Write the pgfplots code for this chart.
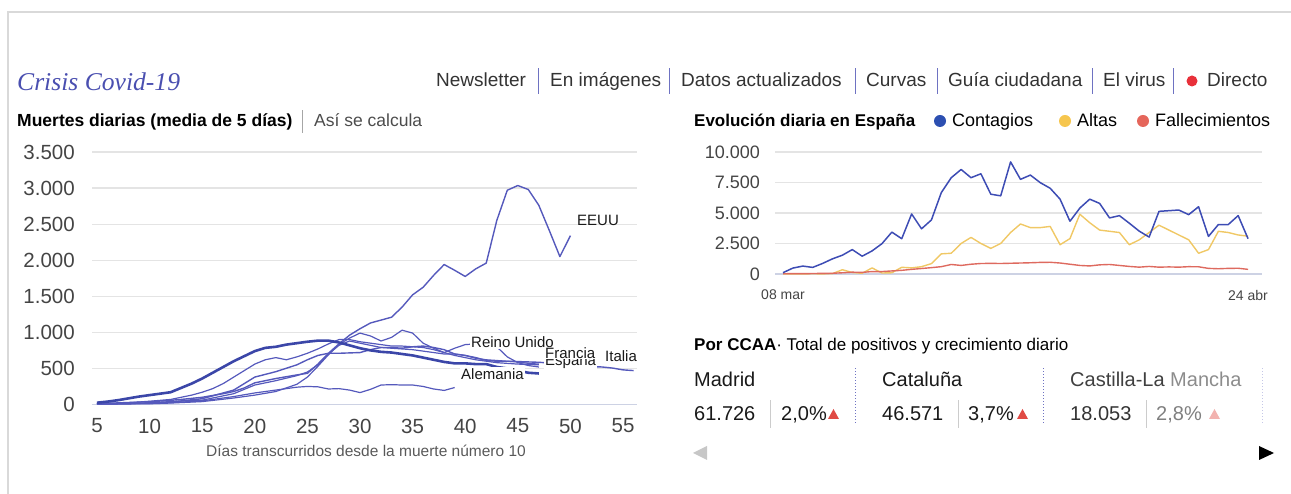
\documentclass[border=0pt]{standalone}
\usepackage{pgfplots}
\pgfplotsset{compat=1.18}
\usepackage{pgfplotstable}
\usepackage{fontspec}
\setmainfont{Liberation Sans}
\newfontfamily\titlefont{Liberation Serif}
\newcommand\fs[1]{\fontsize{#1}{#1}\selectfont}

\definecolor{framec}{HTML}{D9D9D9}
\definecolor{brand}{HTML}{4A4FB0}
\definecolor{navtxt}{HTML}{333333}
\definecolor{sepc}{HTML}{6E72C2}
\definecolor{gridc}{HTML}{E4E4E4}
\definecolor{basec}{HTML}{CDD2E4}
\definecolor{ticktxt}{HTML}{444444}
\definecolor{linec}{HTML}{5559BC}
\definecolor{thickc}{HTML}{3B46A8}
\definecolor{contc}{HTML}{3D4CB4}
\definecolor{altc}{HTML}{F0C865}
\definecolor{fallc}{HTML}{DE6A5F}
\definecolor{dotblue}{HTML}{2C4FB1}
\definecolor{dotyel}{HTML}{F6C64E}
\definecolor{dotred}{HTML}{E5665B}
\definecolor{redlive}{HTML}{E8303A}
\definecolor{tric}{HTML}{E04B45}
\definecolor{tril}{HTML}{F2B3B0}

% ---------- left chart: daily deaths (5-day mean) ----------
\pgfplotstableread{
d v
5 15
6 18
7 22
8 28
9 33
10 40
11 48
12 58
13 70
14 85
15 100
16 125
17 150
18 180
19 230
20 300
21 330
22 360
23 385
24 410
25 432
26 560
27 710
28 840
29 960
30 1050
31 1130
32 1170
33 1210
34 1350
35 1520
36 1625
37 1790
38 1940
39 1860
40 1775
41 1880
42 1960
43 2550
44 2970
45 3035
46 2980
47 2760
48 2410
49 2050
50 2340
}\eeuu

\pgfplotstableread{
d v
5 25
6 40
7 60
8 85
9 110
10 130
11 150
12 170
13 230
14 290
15 360
16 440
17 520
18 600
19 670
20 740
21 785
22 800
23 830
24 850
25 870
26 885
27 885
28 860
29 820
30 780
31 750
32 730
33 720
34 700
35 680
36 650
37 620
38 590
39 570
40 570
41 560
42 560
43 520
44 500
45 470
46 440
47 430
}\thick

\pgfplotstableread{
d v
5 10
8 25
10 45
12 70
14 130
15 170
16 220
17 290
18 380
19 470
20 560
21 620
22 650
23 620
24 660
25 710
26 770
27 840
28 900
29 900
30 870
31 850
32 830
33 810
34 810
35 800
36 790
37 760
38 720
39 680
40 650
41 620
42 600
43 580
44 570
45 560
46 555
47 550
}\serb

\pgfplotstableread{
d v
5 5
8 12
10 20
12 35
15 80
18 200
20 380
22 455
24 550
25 620
26 680
27 710
28 710
29 715
30 720
31 760
32 790
33 790
34 780
35 800
36 810
37 790
38 760
39 700
40 680
41 650
42 610
43 600
44 600
45 595
46 590
47 585
48 575
49 560
50 550
51 540
52 525
53 520
54 505
55 480
56 470
}\italia

\pgfplotstableread{
d v
5 5
8 8
10 10
12 20
15 40
18 90
20 130
22 180
24 280
25 380
26 530
27 690
28 830
29 920
30 990
31 950
32 880
33 930
34 1030
35 990
36 850
37 780
38 720
39 780
40 830
41 840
42 830
43 800
44 660
45 580
46 540
47 520
}\reino

\pgfplotstableread{
d v
5 5
8 10
10 15
12 25
15 50
18 110
20 160
22 200
24 240
25 250
26 245
27 215
28 220
29 200
30 165
31 210
32 270
33 275
34 270
35 270
36 250
37 215
38 195
39 235
}\low

\pgfplotstableread{
d v
5 8
8 15
10 25
12 40
15 60
18 150
20 270
22 330
24 400
25 450
26 550
27 700
28 820
29 880
30 850
31 820
32 790
33 780
34 770
35 760
36 740
37 720
38 700
39 700
40 680
41 640
42 620
43 610
44 600
45 590
46 570
47 560
}\serg

% ---------- right chart: Spain daily ----------
\pgfplotstableread{
d c a f
0 108 0 20
1 486 0 30
2 649 10 25
3 540 20 40
4 865 10 50
5 1243 30 60
6 1541 350 100
7 2000 120 150
8 1459 60 130
9 1892 500 200
10 2486 80 200
11 3432 100 250
12 2892 550 300
13 4919 500 380
14 3703 600 450
15 4432 850 520
16 6676 1650 600
17 7892 1700 780
18 8568 2500 700
19 7892 3000 800
20 8216 2500 860
21 6541 2100 870
22 6405 2500 860
23 9189 3400 880
24 7757 4100 900
25 8108 3800 920
26 7486 3800 950
27 7027 3900 960
28 6135 2400 900
29 4324 2900 800
30 5405 4900 700
31 6135 4200 660
32 5784 3600 750
33 4595 3500 780
34 4784 3400 700
35 4162 2400 620
36 3514 2800 560
37 3027 3400 620
38 5135 4000 560
39 5189 3600 580
40 5243 3200 560
41 4865 2800 600
42 5514 1700 590
43 3081 2000 460
44 4054 3500 430
45 4054 3400 460
46 4784 3200 470
47 2892 3100 380
}\spain

\begin{document}
\begin{tikzpicture}[x=1pt,y=1pt]
\path[use as bounding box] (0,0) rectangle (1291,494);
\draw[framec, line width=2pt] (8,-2) -- (8,482) -- (1293,482);

% ---------- header ----------
\node[anchor=base west, inner sep=0pt, text=brand, font=\titlefont\itshape\fs{25.6}] at (17,403) {Crisis Covid-19};
\begin{scope}[every node/.style={anchor=base west, inner sep=0pt, text=navtxt, font=\fs{19}}]
\node at (436,407) {Newsletter};
\node at (550,407) {En imágenes};
\node at (681,407) {Datos actualizados};
\node at (866,407) {Curvas};
\node at (948,407) {Guía ciudadana};
\node at (1103,407) {El virus};
\node at (1207,407) {Directo};
\end{scope}
\foreach \xx in {538,669,855,937,1092,1173} {\draw[sepc, line width=1pt] (\xx,400) -- (\xx,426);}
\fill[redlive] (1192,413) circle (5.5);

% ---------- left title ----------
\node[anchor=base west, inner sep=0pt, font=\bfseries\fs{17.5}, text=black] at (17,367) {Muertes diarias (media de 5 días)};
\draw[gray!70, line width=0.8pt] (302,361) -- (302,384);
\node[anchor=base west, inner sep=0pt, font=\fs{17.5}, text=black!70] at (314,367) {Así se calcula};

% ---------- right title & legend ----------
\node[anchor=base west, inner sep=0pt, font=\bfseries\fs{17}, text=black] at (694,367) {Evolución diaria en España};
\fill[dotblue] (940,373) circle (6);
\node[anchor=base west, inner sep=0pt, font=\fs{18}, text=black] at (952,367) {Contagios};
\fill[dotyel] (1065,373) circle (6);
\node[anchor=base west, inner sep=0pt, font=\fs{18}, text=black] at (1077,367) {Altas};
\fill[dotred] (1143,373) circle (6);
\node[anchor=base west, inner sep=0pt, font=\fs{18}, text=black] at (1155,367) {Fallecimientos};

% ---------- left axis ----------
\begin{axis}[at={(92pt,89.5pt)}, anchor=south west, scale only axis,
  width=545pt, height=252.5pt,
  xmin=4.525, xmax=56.33, ymin=0, ymax=3500,
  scaled x ticks=false, scaled y ticks=false,
  axis line style={draw=none}, major tick length=0pt, tick style={draw=none},
  ymajorgrids, grid style={gridc, line width=1.2pt},
  xtick={5,10,...,55}, xticklabels={5,10,15,20,25,30,35,40,45,50,55},
  ytick={0,500,...,3500}, yticklabels={0,500,1.000,1.500,2.000,2.500,3.000,3.500},
  ticklabel style={font=\fs{20.5}, text=ticktxt, inner sep=0pt},
  yticklabel style={anchor=east, xshift=-17pt},
  xticklabel style={anchor=north, yshift=-14pt},
  clip=false,
  every axis plot/.append style={line join=round, no markers},
]
\draw[basec, line width=1.5pt] (axis cs:4.525,0) -- (axis cs:56.33,0);
\addplot[linec, line width=1.2pt] table[x=d,y=v]{\low};
\addplot[linec, line width=1.2pt] table[x=d,y=v]{\serg};
\addplot[linec, line width=1.2pt] table[x=d,y=v]{\serb};
\addplot[linec, line width=1.4pt] table[x=d,y=v]{\italia};
\addplot[linec, line width=1.2pt] table[x=d,y=v]{\reino};
\addplot[linec, line width=1.4pt] table[x=d,y=v]{\eeuu};
\addplot[thickc, line width=2.6pt] table[x=d,y=v]{\thick};
\end{axis}

% series labels
\begin{scope}[every node/.style={anchor=west, inner sep=1pt, font=\fs{15}, text=black!90}]
\node at (576,274) {EEUU};
\node[fill=white] at (470,152) {Reino Unido};
\node[fill=white] at (544,132) {España};
\node[fill=white, inner ysep=0pt] at (544,141) {Francia};
\node[fill=white] at (604,138) {Italia};
\node[fill=white] at (460,120) {Alemania};
\end{scope}
\node[font=\fs{15.5}, text=black!65] at (366,43) {Días transcurridos desde la muerte número 10};

% ---------- right axis ----------
\begin{axis}[at={(775pt,220pt)}, anchor=south west, scale only axis,
  width=487pt, height=122pt,
  xmin=-0.81, xmax=48.41, ymin=0, ymax=10000,
  scaled x ticks=false, scaled y ticks=false,
  axis line style={draw=none}, major tick length=0pt, tick style={draw=none},
  ymajorgrids, grid style={gridc, line width=1.2pt},
  xtick={0,47}, xticklabels={08 mar,24 abr},
  ytick={0,2500,5000,7500,10000}, yticklabels={0,2.500,5.000,7.500,10.000},
  ticklabel style={text=ticktxt, inner sep=0pt},
  yticklabel style={font=\fs{18}, anchor=east, xshift=-15pt},
  xticklabel style={font=\fs{14}, anchor=north, yshift=-16pt},
  clip=false,
  every axis plot/.append style={line join=round, no markers},
]
\draw[basec, line width=1.5pt] (axis cs:-0.81,0) -- (axis cs:48.41,0);
\addplot[altc, line width=1.4pt] table[x=d,y=a]{\spain};
\addplot[fallc, line width=1.4pt] table[x=d,y=f]{\spain};
\addplot[contc, line width=1.5pt] table[x=d,y=c]{\spain};
\end{axis}

% ---------- CCAA cards ----------
\node[anchor=base west, inner sep=0pt, font=\fs{17}, text=black] at (694,143) {\textbf{Por CCAA}· Total de positivos y crecimiento diario};
\begin{scope}[every node/.style={anchor=base west, inner sep=0pt, font=\fs{20}}]
\node[text=black!90] at (694,107) {Madrid};
\node[text=black!90] at (882,107) {Cataluña};
\node[text=black!75] at (1070,107) {Castilla-La \textcolor{black!45}{Mancha}};
\node[text=black!90] at (694,73) {61.726};
\node[text=black!90] at (781,73) {2,0\%};
\node[text=black!90] at (882,73) {46.571};
\node[text=black!90] at (968,73) {3,7\%};
\node[text=black!80] at (1070,73) {18.053};
\node[text=black!50] at (1156,73) {2,8\%};
\end{scope}
\foreach \xx in {770,958,1146} {\draw[black!20, line width=1pt] (\xx,66) -- (\xx,94);}
\fill[tric] (828,75) -- (839,75) -- (833.5,85) -- cycle;
\fill[tric] (1017,75) -- (1028,75) -- (1022.5,85) -- cycle;
\fill[tril] (1209,75) -- (1220,75) -- (1214.5,85) -- cycle;
\draw[sepc, line width=1pt, dotted] (855,71) -- (855,126);
\draw[sepc, line width=1pt, dotted] (1043,71) -- (1043,126);
\draw[sepc!40, line width=1pt, dotted] (1262,71) -- (1262,126);
\fill[black!22] (707,48) -- (707,34) -- (693,41) -- cycle;
\fill[black] (1259,48) -- (1259,34) -- (1274,41) -- cycle;
\end{tikzpicture}
\end{document}
